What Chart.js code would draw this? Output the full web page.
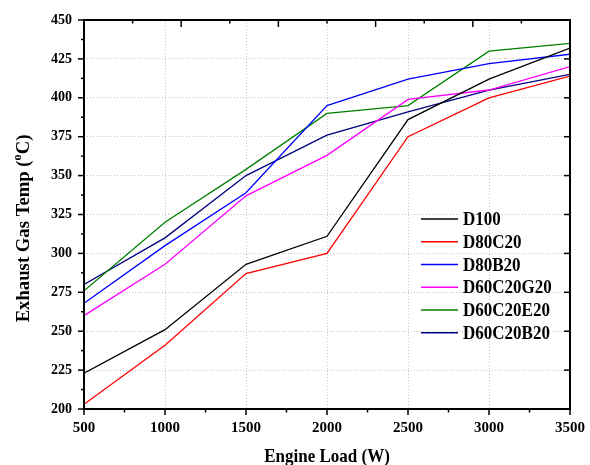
<!DOCTYPE html>
<html>
<head>
<meta charset="utf-8">
<script src="https://cdn.jsdelivr.net/npm/chart.js@4/dist/chart.umd.min.js"></script>
<style>
  html, body { margin: 0; padding: 0; background: #fff; }
  #wrap { width: 590px; height: 465px; position: relative; }
</style>
</head>
<body>
<div id="wrap"><canvas id="c"></canvas></div>
<script>
// Engine load (W) on the x axis
const loads = [500, 1000, 1500, 2000, 2500, 3000, 3500];

// Exhaust gas temperature (°C) for each fuel blend
const d100      = [223, 251, 293, 311, 386, 412, 432];
const d80c20    = [203, 241, 287, 300, 375, 400, 414];
const d80b20    = [268, 305, 339, 395, 412, 422, 428];
const d60c20g20 = [260, 293, 337, 363, 399, 405, 420];
const d60c20e20 = [276, 320, 354, 390, 395, 430, 435];
const d60c20b20 = [280, 310, 350, 376, 391, 405, 415];

const seriesNames  = ['D100', 'D80C20', 'D80B20', 'D60C20G20', 'D60C20E20', 'D60C20B20'];
const seriesValues = [d100, d80c20, d80b20, d60c20g20, d60c20e20, d60c20b20];
const seriesColors = ['#000000', '#ff0000', '#0000ff', '#ff00ff', '#008000', '#000080'];

// Axis tick labels
const xTickValues = [500, 1000, 1500, 2000, 2500, 3000, 3500];
const yTickValues = [200, 225, 250, 275, 300, 325, 350, 375, 400, 425, 450];

const FONT = '"Liberation Serif", "Times New Roman", serif';

const datasets = seriesNames.map((name, i) => ({
  label: name,
  data: loads.map((x, j) => ({ x: x, y: seriesValues[i][j] })),
  borderColor: seriesColors[i],
  backgroundColor: seriesColors[i],
  borderWidth: 1.3,
  pointRadius: 0,
  tension: 0,
  fill: false
}));

// Frame, Origin-style tick marks, axis titles and an in-plot legend
const decorations = {
  id: 'decorations',
  afterDraw(chart) {
    const ctx = chart.ctx;
    const a = chart.chartArea;
    const xs = chart.scales.x, ys = chart.scales.y;
    const line = (x1, y1, x2, y2) => { ctx.beginPath(); ctx.moveTo(x1, y1); ctx.lineTo(x2, y2); ctx.stroke(); };
    // text drawn slightly taller than wide
    const tallText = (txt, x, y, font, stretch) => {
      ctx.save();
      ctx.translate(x, y);
      ctx.scale(1, stretch);
      ctx.font = font;
      ctx.fillText(txt, 0, 0);
      ctx.restore();
    };

    ctx.save();
    ctx.strokeStyle = '#000';
    ctx.lineWidth = 1.5;

    // left axis: outward major and minor ticks
    for (let v = yTickValues[0]; v <= yTickValues[yTickValues.length - 1]; v += 12.5) {
      const py = ys.getPixelForValue(v);
      const major = yTickValues.includes(v);
      line(a.left - (major ? 6 : 3), py, a.left, py);
    }
    // right axis: inward major ticks
    yTickValues.forEach(v => {
      const py = ys.getPixelForValue(v);
      line(a.right, py, a.right - 6, py);
    });
    // bottom axis: outward major and minor ticks
    for (let v = xTickValues[0]; v <= xTickValues[xTickValues.length - 1]; v += 250) {
      const px = xs.getPixelForValue(v);
      const major = xTickValues.includes(v);
      line(px, a.bottom, px, a.bottom + (major ? 6 : 3.5));
    }
    // top axis: inward ticks in ten equal divisions
    for (let k = 1; k < 10; k++) {
      const px = a.left + (a.right - a.left) * k / 10;
      line(px, a.top, px, a.top + (k % 2 === 0 ? 7 : 3.5));
    }
    // frame
    ctx.lineWidth = 2;
    ctx.strokeRect(a.left, a.top, a.right - a.left, a.bottom - a.top);

    ctx.fillStyle = '#000';
    // x axis title
    ctx.textAlign = 'center';
    ctx.textBaseline = 'middle';
    tallText('Engine Load (W)', (a.left + a.right) / 2, 457, 'bold 17px ' + FONT, 1.12);

    // y axis title with superscript o
    ctx.save();
    ctx.translate(24, (a.top + a.bottom) / 2 + 14);
    ctx.rotate(-Math.PI / 2);
    ctx.scale(1.1, 1.1);
    const big = 'bold 17px ' + FONT, small = 'bold 11px ' + FONT;
    const p1 = 'Exhaust Gas Temp (', p2 = 'o', p3 = 'C)';
    ctx.font = big; const w1 = ctx.measureText(p1).width, w3 = ctx.measureText(p3).width;
    ctx.font = small; const w2 = ctx.measureText(p2).width;
    let sx = -(w1 + w2 + w3) / 2;
    ctx.textAlign = 'left';
    ctx.font = big; ctx.fillText(p1, sx, 0); sx += w1;
    ctx.font = small; ctx.fillText(p2, sx, -6); sx += w2;
    ctx.font = big; ctx.fillText(p3, sx, 0);
    ctx.restore();

    // legend
    const lx = a.right - 149, ly = a.top + 199, step = 22.75;
    chart.data.datasets.forEach((ds, i) => {
      const yy = ly + i * step;
      ctx.strokeStyle = ds.borderColor;
      ctx.lineWidth = 1.5;
      line(lx, yy, lx + 37, yy);
      ctx.fillStyle = '#000';
      ctx.textAlign = 'left';
      ctx.textBaseline = 'middle';
      tallText(ds.label, lx + 42, yy + 1, 'bold 17px ' + FONT, 1.15);
    });
    ctx.restore();
  }
};

const interiorOnly = (c) => (c.tick && (c.index === 0 || c.index === c.chart.scales[c.scale.id].ticks.length - 1))
  ? 'rgba(0,0,0,0)' : '#c4c4c4';

new Chart(document.getElementById('c'), {
  type: 'line',
  data: { datasets: datasets },
  options: {
    responsive: true,
    maintainAspectRatio: false,
    animation: false,
    layout: { padding: { top: 20, right: 20, left: 0, bottom: 0 } },
    plugins: { legend: { display: false }, tooltip: { enabled: false } },
    scales: {
      x: {
        type: 'linear',
        min: xTickValues[0],
        max: xTickValues[xTickValues.length - 1],
        afterBuildTicks: (s) => { s.ticks = xTickValues.map(v => ({ value: v })); },
        afterFit: (s) => { s.height = 56; s.paddingLeft = 0; s.paddingRight = 0; },
        ticks: { color: '#000', padding: 10, callback: (v) => String(v), font: { family: FONT, weight: 'bold', size: 15 } },
        grid: { color: interiorOnly, lineWidth: 1, drawTicks: false },
        border: { display: false, dash: [1, 2] }
      },
      y: {
        min: yTickValues[0],
        max: yTickValues[yTickValues.length - 1],
        afterBuildTicks: (s) => { s.ticks = yTickValues.map(v => ({ value: v })); },
        afterFit: (s) => { s.width = 84; s.paddingTop = 0; s.paddingBottom = 0; },
        ticks: { color: '#000', padding: 12, callback: (v) => String(v), font: { family: FONT, weight: 'bold', size: 14 } },
        grid: { color: interiorOnly, lineWidth: 1, drawTicks: false },
        border: { display: false, dash: [1, 2] }
      }
    }
  },
  plugins: [decorations]
});
</script>
</body>
</html>
